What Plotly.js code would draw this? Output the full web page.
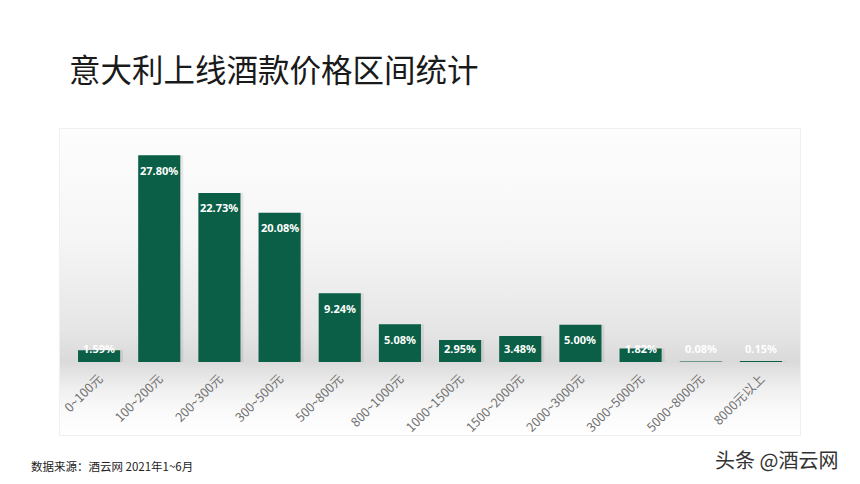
<!DOCTYPE html>
<html>
<head>
<meta charset="utf-8">
<script src="https://cdn.plot.ly/plotly-3.0.1.min.js"></script>
<style>
html,body{margin:0;padding:0;background:#fff;}
#wrap{position:relative;width:860px;height:484px;}
#panel{position:absolute;left:59px;top:128px;width:742px;height:308px;box-sizing:border-box;border:1px solid #efefef;
background:linear-gradient(to bottom,#fdfdfd 0%,#f6f6f6 35%,#e6e6e6 65%,#dadada 76%,#eeeeee 84%,#fafafa 92%,#ffffff 100%);}
#chart{position:absolute;left:0;top:0;width:860px;height:484px;}
</style>
</head>
<body>
<div id="wrap"><div id="panel"></div><div id="chart"></div></div>
<script>
const categories = ["0~100元","100~200元","200~300元","300~500元","500~800元","800~1000元","1000~1500元","1500~2000元","2000~3000元","3000~5000元","5000~8000元","8000元以上"];
const shares = [1.59, 27.80, 22.73, 20.08, 9.24, 5.08, 2.95, 3.48, 5.00, 1.82, 0.08, 0.15];
const labels = ["1.59%","27.80%","22.73%","20.08%","9.24%","5.08%","2.95%","3.48%","5.00%","1.82%","0.08%","0.15%"];

const green = '#0b5f46';

const shadow = {
  type:'bar', x:categories, y:shares, width:0.7, offset:-0.3,
  marker:{color:'rgba(0,0,0,0.07)'}, hoverinfo:'skip', showlegend:false
};
const bars = {
  type:'bar', x:categories, y:shares, width:0.7, offset:-0.35,
  marker:{color:green, line:{width:0}}, showlegend:false
};

const annotations = categories.map((c,i)=>({
  x:c, y:Math.max(shares[i]-2.0, 1.75), xref:'x', yref:'y',
  text:'<b>'+labels[i]+'</b>', showarrow:false, yanchor:'middle',
  font:{family:'Noto Sans, DejaVu Sans, sans-serif', size:11, color:'#ffffff'}
}));
annotations.push(
  {xref:'paper', yref:'paper', x:-0.003, y:1.235, xanchor:'left', yanchor:'middle',
   text:'意大利上线酒款价格区间统计', showarrow:false,
   font:{family:'Noto Sans CJK SC, sans-serif', size:31.5, color:'#1a1a1a'}},
  {xref:'paper',yref:'paper',x:-0.056,y:-0.437,xanchor:'left',yanchor:'middle',showarrow:false,
   text:'数据来源：酒云网 2021年1~6月',font:{family:'Noto Sans CJK SC, sans-serif',size:11.5,color:'#222'}},
  {xref:'paper',yref:'paper',x:1.068,y:-0.41,xanchor:'right',yanchor:'middle',showarrow:false,
   text:'头条 @酒云网',font:{family:'Noto Sans CJK SC, sans-serif',size:20,color:'#333'}}
);

const layout = {
  width:860, height:484,
  margin:{l:69, r:69, t:124, b:122},
  paper_bgcolor:'rgba(0,0,0,0)', plot_bgcolor:'rgba(0,0,0,0)',
  barmode:'overlay',
  xaxis:{type:'category', range:[-0.5,11.5], showgrid:false, zeroline:false, showline:false,
    tickangle:-45, ticks:'', ticklabelstandoff:6,
    tickfont:{family:'Noto Sans CJK SC, sans-serif', size:12.5, color:'#707070'}},
  yaxis:{range:[0,32], visible:false, fixedrange:true},
  annotations:annotations,
  font:{family:'Noto Sans CJK SC, sans-serif'}
};

Plotly.newPlot('chart',[shadow,bars],layout,{displayModeBar:false,staticPlot:true});
</script>
</body>
</html>
